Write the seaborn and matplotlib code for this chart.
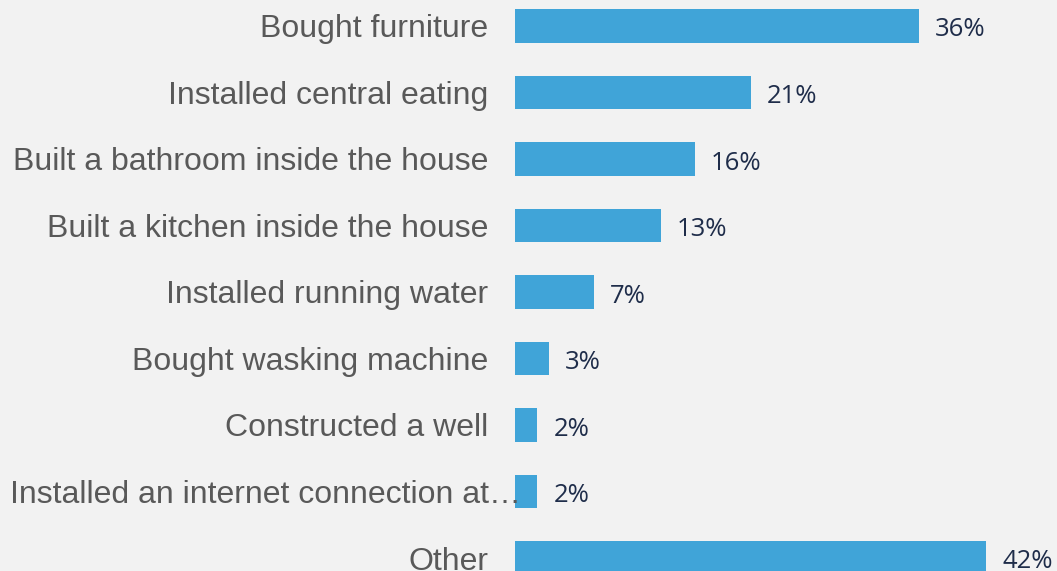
import matplotlib
matplotlib.use("Agg")
import matplotlib.pyplot as plt
import matplotlib.transforms as mtransforms
import seaborn as sns
import pandas as pd

categories = [
    "Bought furniture",
    "Installed central eating",
    "Built a bathroom inside the house",
    "Built a kitchen inside the house",
    "Installed running water",
    "Bought wasking machine",
    "Constructed a well",
    "Installed an internet connection at\u2026",
    "Other",
]
shares = [36, 21, 16, 13, 7, 3, 2, 2, 42]

df = pd.DataFrame({"category": categories, "share": shares})

BG = "#f2f2f2"
BAR = "#40a4d8"
LABEL = "#595959"
VALUE = "#1f2d4a"

sns.set_theme(style="white")
plt.rcParams["font.family"] = ["Liberation Sans", "DejaVu Sans"]

W, H = 1057, 571
fig = plt.figure(figsize=(W / 100, H / 100), dpi=100, facecolor=BG)
left = 515 / W
ax = fig.add_axes([left, 0, 1 - left, 1], facecolor=BG)

sns.barplot(data=df, x="share", y="category", color=BAR, width=0.51,
            saturation=1, linewidth=0, ax=ax)

px_per_unit = 404 / 36
ax.set_xlim(0, (W - 515) / px_per_unit)
row = 66.5
ax.set_ylim((H - 26) / row, -26 / row)

for s in ax.spines.values():
    s.set_visible(False)
ax.set_xticks([])
ax.set_yticks([])
ax.set_xlabel("")
ax.set_ylabel("")

# category labels: x in figure pixels, y in data rows
label_tf = mtransforms.blended_transform_factory(fig.dpi_scale_trans, ax.transData)
for i, name in enumerate(categories):
    if name.endswith("\u2026"):
        x, ha = 10, "left"
    else:
        x, ha = 488, "right"
    ax.text(x / 100, i, name, transform=label_tf, ha=ha, va="center_baseline",
            fontsize=23.05, color=LABEL, clip_on=False)

# value labels
shift = 4 / row
for i, v in enumerate(shares):
    ax.text(v + 16 / px_per_unit, i + shift, f"{v}%", va="center", ha="left",
            fontsize=18.5, color=VALUE, family=["Open Sans", "DejaVu Sans"],
            clip_on=False)

fig.savefig("out.png", dpi=100, facecolor=BG)
